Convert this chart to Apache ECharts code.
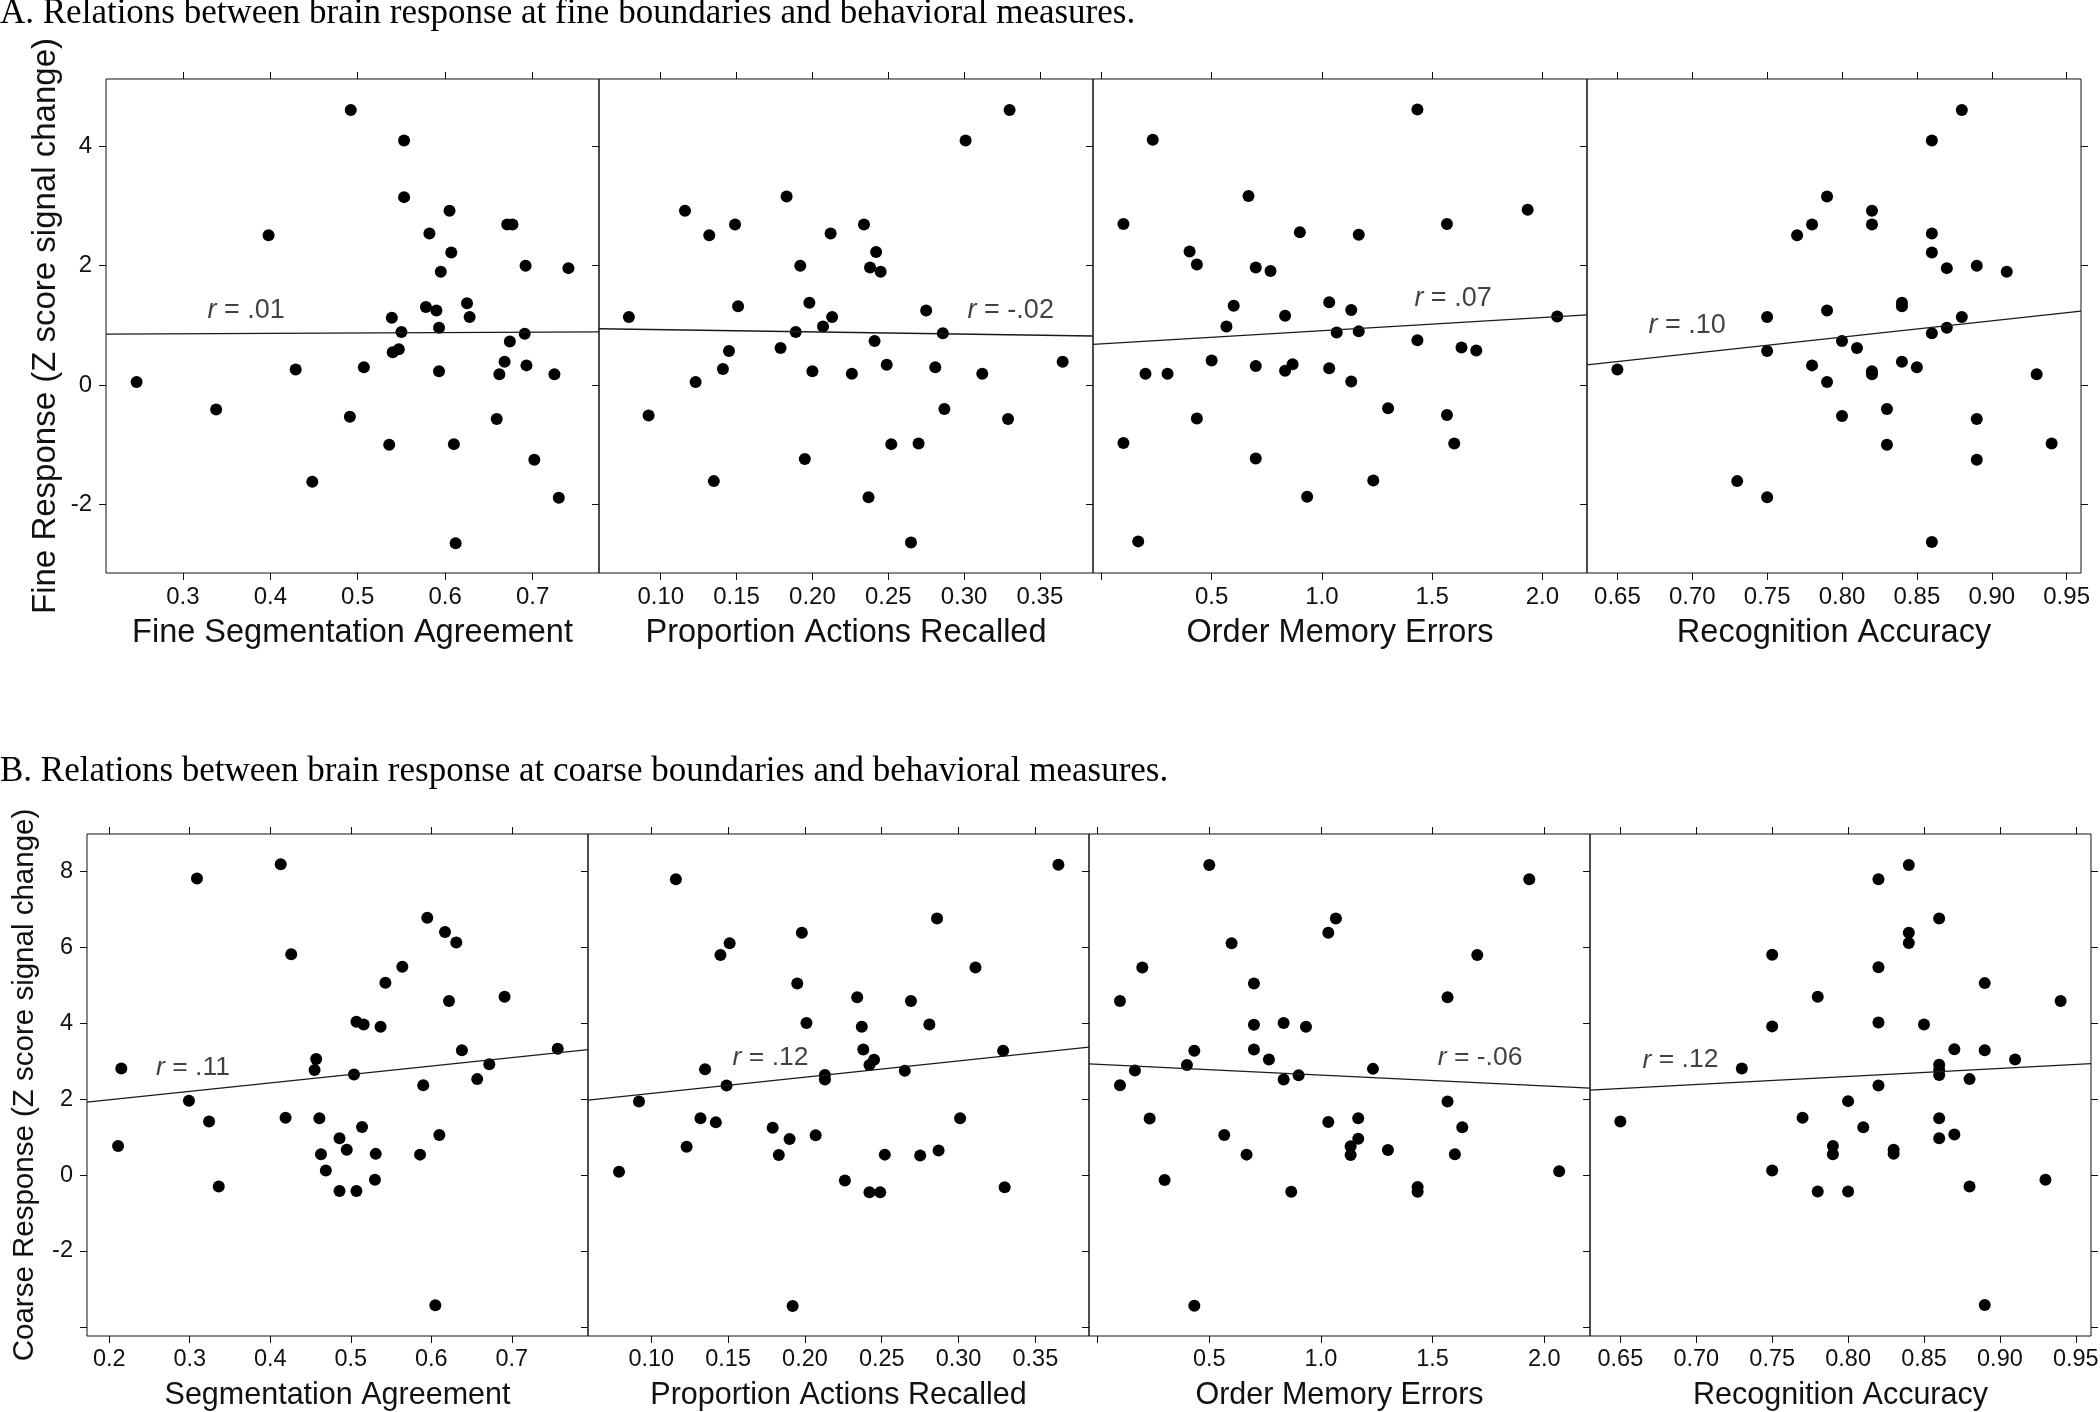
<!DOCTYPE html>
<html><head><meta charset="utf-8">
<script src="https://cdn.jsdelivr.net/npm/echarts@6/dist/echarts.min.js"></script>
<style>html,body{margin:0;padding:0;background:#fff}#c{width:2100px;height:1412px}</style>
</head><body><div id="c"></div>
<script>
// ---------- DATA ----------
const a1X = [0.247,0.338,0.398,0.429,0.448,0.492,0.491,0.507,0.536,0.539,0.540,0.547,0.550,0.553,0.553,0.578,0.582,0.590,0.593,0.593,0.595,0.605,0.607,0.610,0.612,0.625,0.628,0.659,0.662,0.668,0.671,0.677,0.674,0.691,0.692,0.693,0.702,0.725,0.730,0.741];
const a1Y = [0.05,-0.41,2.51,0.26,-1.62,4.61,-0.53,0.30,-1.00,1.13,0.55,0.60,0.89,4.10,3.15,1.31,2.54,1.25,0.96,0.23,1.90,2.92,2.22,-0.99,-2.65,1.37,1.14,-0.57,0.18,0.39,2.69,2.69,0.73,0.86,2.00,0.33,-1.25,0.18,-1.89,1.96];

const a2X = [0.079,0.092,0.116,0.123,0.132,0.135,0.141,0.145,0.149,0.151,0.179,0.183,0.189,0.192,0.195,0.198,0.200,0.207,0.212,0.213,0.226,0.234,0.237,0.238,0.241,0.242,0.245,0.249,0.252,0.265,0.270,0.275,0.281,0.286,0.287,0.301,0.312,0.329,0.330,0.365];
const a2Y = [1.14,-0.51,2.92,0.05,2.51,-1.61,0.27,0.57,2.69,1.32,0.62,3.16,0.89,2.00,-1.24,1.38,0.23,0.98,2.54,1.14,0.19,2.69,-1.88,1.97,0.74,2.23,1.90,0.34,-0.99,-2.64,-0.98,1.25,0.30,0.87,-0.40,4.10,0.19,-0.57,4.61,0.39];

const a3X = [0.100,0.100,0.167,0.200,0.233,0.300,0.400,0.433,0.433,0.500,0.567,0.600,0.667,0.700,0.700,0.700,0.767,0.833,0.833,0.867,0.900,0.933,1.033,1.033,1.067,1.133,1.133,1.167,1.167,1.233,1.300,1.433,1.433,1.567,1.567,1.600,1.633,1.700,1.933,2.067];
const a3Y = [2.70,-0.97,-2.62,0.19,4.11,0.19,2.24,2.02,-0.56,0.41,0.98,1.33,3.17,1.97,0.32,-1.23,1.91,1.16,0.24,0.35,2.56,-1.87,1.39,0.28,0.88,1.26,0.06,2.52,0.90,-1.60,-0.39,4.62,0.75,2.70,-0.50,-0.98,0.63,0.58,2.94,1.15];

const a4X = [0.65,0.73,0.75,0.75,0.75,0.77,0.78,0.78,0.79,0.79,0.79,0.80,0.80,0.81,0.82,0.82,0.82,0.82,0.83,0.83,0.84,0.84,0.84,0.85,0.86,0.86,0.86,0.86,0.86,0.87,0.87,0.88,0.88,0.89,0.89,0.89,0.91,0.93,0.94];
const a4Y = [0.26,-1.61,1.14,0.57,-1.88,2.51,2.69,0.33,3.16,1.25,0.05,0.74,-0.52,0.62,2.92,2.69,0.23,0.18,-0.40,-1.00,1.38,1.32,0.39,0.30,4.10,2.54,2.22,0.87,-2.63,1.96,0.96,4.61,1.14,2.00,-0.57,-1.25,1.90,0.18,-0.98];

const b1X = [0.211,0.215,0.299,0.309,0.324,0.336,0.413,0.419,0.426,0.455,0.457,0.461,0.463,0.469,0.486,0.486,0.495,0.504,0.507,0.507,0.514,0.516,0.530,0.531,0.537,0.543,0.564,0.586,0.590,0.595,0.605,0.610,0.617,0.622,0.631,0.638,0.657,0.672,0.691,0.757];
const b1Y = [0.77,2.81,1.96,7.82,1.41,-0.30,8.19,1.51,5.82,2.77,3.06,1.50,0.55,0.12,0.97,-0.42,0.67,2.65,-0.42,4.04,1.27,3.97,-0.12,0.56,3.91,5.07,5.49,0.54,2.37,6.78,-3.43,1.06,6.41,4.59,6.13,3.29,2.53,2.92,4.70,3.33];

const b2X = [0.079,0.092,0.116,0.123,0.132,0.135,0.142,0.145,0.149,0.151,0.179,0.183,0.190,0.192,0.195,0.198,0.201,0.207,0.213,0.213,0.226,0.234,0.237,0.238,0.242,0.242,0.245,0.249,0.252,0.265,0.269,0.275,0.281,0.286,0.287,0.301,0.311,0.329,0.330,0.365];
const b2Y = [0.09,1.94,7.80,0.75,1.50,2.79,1.39,5.80,2.36,6.11,1.25,0.53,0.95,-3.45,5.05,6.39,4.01,1.05,2.64,2.52,-0.14,4.69,3.91,3.31,-0.45,2.90,3.04,-0.45,0.54,2.75,4.59,0.52,3.97,6.76,0.65,1.50,5.47,3.28,-0.32,8.18];

const b3X = [0.100,0.100,0.167,0.200,0.233,0.300,0.400,0.433,0.433,0.500,0.567,0.600,0.667,0.700,0.700,0.700,0.767,0.833,0.833,0.867,0.900,0.933,1.033,1.033,1.067,1.133,1.133,1.167,1.167,1.233,1.300,1.433,1.433,1.567,1.567,1.600,1.633,1.700,1.933,2.067];
const b3Y = [4.59,2.37,2.76,5.47,1.49,-0.13,2.90,3.28,-3.44,8.17,1.06,6.11,0.54,5.05,3.96,3.31,3.05,4.01,2.52,-0.44,2.63,3.91,6.39,1.40,6.76,0.76,0.53,1.50,0.96,2.80,0.66,-0.31,-0.44,4.69,1.94,0.55,1.26,5.80,7.80,0.10];

const b4X = [0.65,0.73,0.75,0.75,0.75,0.77,0.78,0.78,0.79,0.79,0.80,0.80,0.81,0.82,0.82,0.82,0.82,0.83,0.83,0.84,0.84,0.84,0.85,0.86,0.86,0.86,0.86,0.86,0.86,0.87,0.87,0.88,0.88,0.89,0.89,0.89,0.91,0.93,0.94];
const b4Y = [1.41,2.81,5.81,3.92,0.12,1.51,4.70,-0.43,0.77,0.55,1.95,-0.43,1.26,7.80,5.48,4.02,2.36,0.67,0.56,8.17,6.39,6.12,3.97,6.76,2.91,2.77,2.64,1.50,0.97,3.32,1.07,2.53,-0.30,5.06,3.29,-3.42,3.05,-0.12,4.59];

// fitted regression lines, read at the panel edges: [x0, y0, x1, y1]
const fitA = [[0.212,0.854,0.776,0.893],[0.0593,0.944,0.385,0.822],[-0.038,0.681,2.202,1.175],[0.6297,0.340,0.9596,1.240]];
const fitB = [[0.1724,1.926,0.7946,3.306],[0.0588,1.979,0.3849,3.371],[-0.0387,2.932,2.205,2.294],[0.630,2.240,0.960,2.939]];
const rA = ['.01','-.02','.07','.10'];
const rB = ['.11','.12','-.06','.12'];

// tick values
const ticksSegFine = [0.3,0.4,0.5,0.6,0.7];
const ticksSegCoarse = [0.2,0.3,0.4,0.5,0.6,0.7];
const ticksRecall = [0.10,0.15,0.20,0.25,0.30,0.35];
const ticksOrder = [0,0.5,1.0,1.5,2.0];
const labelsOrder = [0.5,1.0,1.5,2.0];
const ticksRecog = [0.65,0.70,0.75,0.80,0.85,0.90,0.95];
const ticksFineY = [-2,0,2,4];
const ticksCoarseY = [-4,-2,0,2,4,6,8];
const labelsCoarseY = [-2,0,2,4,6,8];

const xNamesA = ['Fine Segmentation Agreement','Proportion Actions Recalled','Order Memory Errors','Recognition Accuracy'];
const xNamesB = ['Segmentation Agreement','Proportion Actions Recalled','Order Memory Errors','Recognition Accuracy'];

// ---------- LAYOUT / STYLE ----------
const SANS = 'Liberation Sans, Arial, sans-serif';
const SERIF = 'Liberation Serif, Times New Roman, serif';
const INK = '#111';

const rows = [
  { top: 79, height: 494, lefts: [106,599,1093,1587], widths: [493,494,494,494],
    xr: [[0.212,0.776],[0.0593,0.385],[-0.038,2.202],[0.6297,0.9596]], yr: [-3.15,5.13],
    xs: [a1X,a2X,a3X,a4X], ys: [a1Y,a2Y,a3Y,a4Y], fit: fitA, r: rA,
    rAt: [[0.3275,1.25],[0.302,1.25],[1.417,1.445],[0.6705,1.00]],
    xt: [ticksSegFine,ticksRecall,ticksOrder,ticksRecog], xl: [ticksSegFine,ticksRecall,labelsOrder,ticksRecog], dec:[1,2,1,2],
    yt: ticksFineY, yl: ticksFineY, xNames: xNamesA, yName: 'Fine Response (Z score signal change)',
    xNameSize: 32.5, yNameSize: 33, yNameGap: 44, tickSize: 24, rSize: 27 },
  { top: 834, height: 502, lefts: [87,588,1089,1590], widths: [501,501,501,501],
    xr: [[0.1724,0.7946],[0.0588,0.3849],[-0.0387,2.205],[0.630,0.960]], yr: [-4.24,8.99],
    xs: [b1X,b2X,b3X,b4X], ys: [b1Y,b2Y,b3Y,b4Y], fit: fitB, r: rB,
    rAt: [[0.2575,2.83],[0.1526,3.10],[1.521,3.107],[0.6643,3.03]],
    xt: [ticksSegCoarse,ticksRecall,ticksOrder,ticksRecog], xl: [ticksSegCoarse,ticksRecall,labelsOrder,ticksRecog], dec:[1,2,1,2],
    yt: ticksCoarseY, yl: labelsCoarseY, xNames: xNamesB, yName: 'Coarse Response (Z score signal change)',
    xNameSize: 30.5, yNameSize: 29.5, yNameGap: 47, tickSize: 23.5, rSize: 26.5 }
];

const grid = [], xAxis = [], yAxis = [], series = [];
rows.forEach((R) => {
  for (let c = 0; c < 4; c++) {
    const gi = grid.length;
    grid.push({ left: R.lefts[c], top: R.top, width: R.widths[c], height: R.height,
      show: true, borderColor: INK, borderWidth: 1, backgroundColor: 'transparent', containLabel: false, outerBoundsMode: 'none' });
    const dec = R.dec[c];
    const xi = xAxis.length;
    xAxis.push({ type: 'value', gridIndex: gi, position: 'bottom', min: R.xr[c][0], max: R.xr[c][1],
      splitLine: { show: false }, axisLine: { show: false, onZero: false },
      axisTick: { show: true, inside: false, length: 7, customValues: R.xt[c], lineStyle: { color: INK, width: 1 } },
      axisLabel: { show: true, customValues: R.xl[c], margin: 12, color: INK, fontFamily: SANS, fontSize: R.tickSize,
        formatter: v => Number(v).toFixed(dec) },
      name: R.xNames[c], nameLocation: 'middle', nameGap: 44, nameMoveOverlap: false,
      nameTextStyle: { color: INK, fontFamily: SANS, fontSize: R.xNameSize } });
    xAxis.push({ type: 'value', gridIndex: gi, position: 'top', min: R.xr[c][0], max: R.xr[c][1],
      splitLine: { show: false }, axisLine: { show: false, onZero: false },
      axisTick: { show: true, inside: false, length: 7, customValues: R.xt[c], lineStyle: { color: INK, width: 1 } },
      axisLabel: { show: false } });
    const yi = yAxis.length;
    const ya = { type: 'value', gridIndex: gi, position: 'left', min: R.yr[0], max: R.yr[1],
      splitLine: { show: false }, axisLine: { show: false, onZero: false },
      axisTick: { show: true, inside: false, length: 7, customValues: R.yt, lineStyle: { color: INK, width: 1 } },
      axisLabel: { show: c === 0, customValues: R.yl, margin: 14, color: INK, fontFamily: SANS, fontSize: R.tickSize,
        formatter: v => String(Math.round(v)) } };
    if (c === 0) {
      Object.assign(ya, { name: R.yName, nameLocation: 'middle', nameGap: R.yNameGap, nameRotate: 90, nameMoveOverlap: false,
        nameTextStyle: { color: INK, fontFamily: SANS, fontSize: R.yNameSize } });
    }
    yAxis.push(ya);
    if (c === 3) {
      yAxis.push({ type: 'value', gridIndex: gi, position: 'right', min: R.yr[0], max: R.yr[1],
        splitLine: { show: false }, axisLine: { show: false, onZero: false },
        axisTick: { show: true, inside: false, length: 7, customValues: R.yt, lineStyle: { color: INK, width: 1 } },
        axisLabel: { show: false } });
    }
    const pts = R.xs[c].map((x, k) => [x, R.ys[c][k]]);
    series.push({ type: 'scatter', xAxisIndex: xi, yAxisIndex: yi, data: pts, symbol: 'circle', symbolSize: 12,
      itemStyle: { color: '#000', opacity: 1 }, silent: true, animation: false });
    const f = R.fit[c];
    series.push({ type: 'line', xAxisIndex: xi, yAxisIndex: yi, data: [[f[0], f[1]], [f[2], f[3]]],
      symbol: 'none', lineStyle: { color: '#1a1a1a', width: 1.3 }, silent: true, animation: false, z: 3 });
    series.push({ type: 'scatter', xAxisIndex: xi, yAxisIndex: yi, data: [R.rAt[c]], symbolSize: 1,
      itemStyle: { color: 'rgba(0,0,0,0)' }, silent: true, animation: false,
      label: { show: true, position: 'right', distance: 0, color: INK, fontFamily: SANS, fontSize: R.rSize,
        formatter: '{i|r} = ' + R.r[c],
        rich: { i: { fontStyle: 'italic', fontFamily: SANS, fontSize: R.rSize, color: INK } } } });
  }
});

const chart = echarts.init(document.getElementById('c'), null, { renderer: 'canvas', width: 2100, height: 1412 });
chart.setOption({
  backgroundColor: '#fff',
  animation: false,
  title: [
    { text: 'A. Relations between brain response at fine boundaries and behavioral measures.', left: 0, top: -4, padding: 0,
      textStyle: { fontFamily: SERIF, fontWeight: 'normal', fontSize: 35, color: '#000' } },
    { text: 'B. Relations between brain response at coarse boundaries and behavioral measures.', left: 0, top: 754, padding: 0,
      textStyle: { fontFamily: SERIF, fontWeight: 'normal', fontSize: 35, color: '#000' } }
  ],
  grid, xAxis, yAxis, series
});
</script></body></html>
